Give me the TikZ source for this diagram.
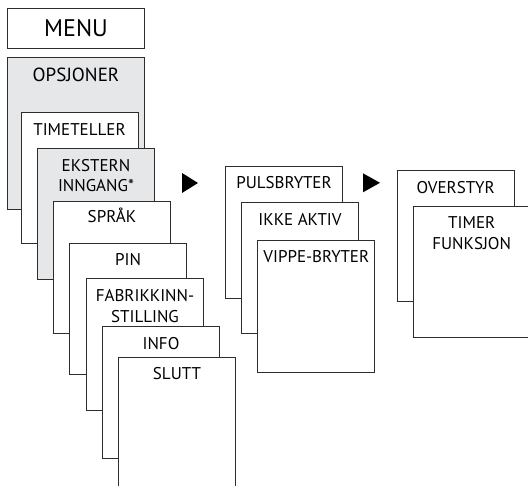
\documentclass[tikz,border=0pt]{standalone}
\usepackage{fontspec}
\setmainfont{PT Sans}
\definecolor{menugray}{RGB}{230,231,232}
\definecolor{edgegray}{RGB}{45,45,45}
\begin{document}
\begin{tikzpicture}[x=1pt,y=-1pt,
  card/.style={draw=edgegray,line width=1pt,fill=white,minimum width=117pt,minimum height=131pt,anchor=north west,inner sep=0pt},
  graycard/.style={card,fill=menugray},
  cardtext/.style={anchor=north,align=center,inner sep=0pt,font=\fontsize{17}{20.5}\selectfont},
  navtri/.style={fill=black}]
\useasboundingbox (0,0) rectangle (528,486);
\node[card,minimum width=137pt,minimum height=40pt,font=\fontsize{24}{28}\selectfont] (menu) at (7,8) {MENU};
\node[graycard,minimum width=137pt,minimum height=152pt] (opsjoner) at (7,57) {};
\node[cardtext,font=\fontsize{19}{22}\selectfont] (opsjonertxt) at ([yshift=-11pt]opsjoner.north) {OPSJONER};
\node[card] (timeteller) at (20.5,112) {};
\node[cardtext] (timetellertxt) at ([yshift=-11.3pt]timeteller.north) {TIMETELLER};
\node[graycard] (ekstern) at (37,148) {};
\node[cardtext] (eksterntxt) at ([yshift=-11pt]ekstern.north) {EKSTERN\\INNGANG*};
\node[card,minimum height=132pt] (sprak) at (53,201) {};
\node[cardtext] (spraktxt) at ([yshift=-7pt]sprak.north) {SPRÅK};
\node[card] (pin) at (69,242.7) {};
\node[cardtext] (pintxt) at ([yshift=-10.7pt]pin.north) {PIN};
\node[card,minimum height=132pt] (fabrikk) at (86,278.3) {};
\node[cardtext] (fabrikktxt) at ([yshift=-11pt]fabrikk.north) {FABRIKKINN-\\STILLING};
\node[card,minimum height=132pt] (info) at (102,326.3) {};
\node[cardtext] (infotxt) at ([yshift=-11pt]info.north) {INFO};
\node[card,minimum height=132pt] (slutt) at (118,356.7) {};
\node[cardtext] (slutttxt) at ([yshift=-10pt]slutt.north) {SLUTT};
\fill[navtri] (182,173) -- (198,183) -- (182,193) -- cycle;
\node[card,minimum height=132pt] (puls) at (225,166) {};
\node[cardtext] (pulstxt) at ([yshift=-10.5pt]puls.north) {PULSBRYTER};
\node[card] (ikke) at (241,202.3) {};
\node[cardtext] (ikketxt) at ([yshift=-10.5pt]ikke.north) {IKKE AKTIV};
\node[card,minimum height=132pt] (vippe) at (257.3,240) {};
\node[cardtext] (vippetxt) at ([yshift=-10.5pt]vippe.north) {VIPPE-BRYTER};
\fill[navtri] (363,173.3) -- (380,182.8) -- (363,192.3) -- cycle;
\node[card] (overstyr) at (396.7,170) {};
\node[cardtext] (overstyrtxt) at ([yshift=-11pt]overstyr.north) {OVERSTYR};
\node[card] (timer) at (412.7,205.7) {};
\node[cardtext] (timertxt) at ([yshift=-11pt]timer.north) {TIMER\\FUNKSJON};
\end{tikzpicture}
\end{document}
